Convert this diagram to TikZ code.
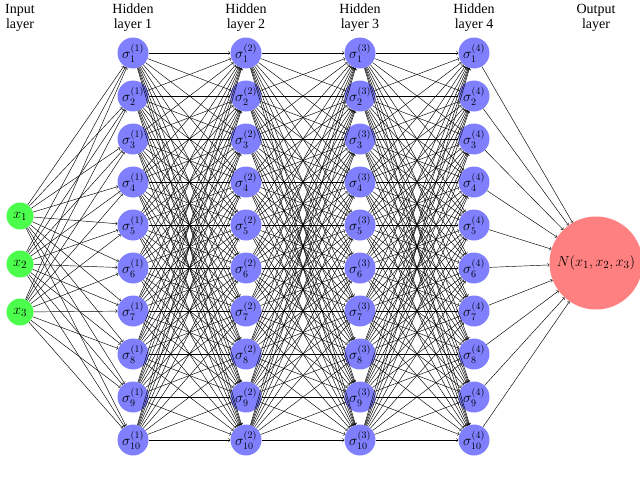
\documentclass[tikz,border=0pt]{standalone}
\usepackage{fontspec}
\setmainfont{Liberation Serif}
\begin{document}
\begin{tikzpicture}[x=1pt,y=-1pt,
  hid/.style={circle,fill=blue!50!white,minimum size=31pt,inner sep=0pt,font=\fontsize{14}{14}\selectfont},
  inp/.style={circle,fill=green!70!white,minimum size=27pt,inner sep=0pt,font=\fontsize{15}{15}\selectfont},
  outn/.style={circle,fill=red!50!white,minimum size=93pt,inner sep=0pt,font=\fontsize{15}{15}\selectfont},
  edge/.style={->,>=to,line width=0.45pt},
  ttl/.style={align=center,font=\fontsize{14}{15}\selectfont}]
\useasboundingbox (0,0) rectangle (640,488);
\node[ttl] (t0) at (20,18) {Input\\layer};
\node[ttl] (t1) at (133,18) {Hidden\\layer 1};
\node[ttl] (t2) at (246,18) {Hidden\\layer 2};
\node[ttl] (t3) at (360,18) {Hidden\\layer 3};
\node[ttl] (t4) at (474,18) {Hidden\\layer 4};
\node[ttl] (t5) at (596,18) {Output\\layer};
\foreach \i/\y in {1/216,2/264,3/312} \node[inp] (I\i) at (20,\y) {$x_{\i}$};
\foreach \l/\x in {1/133,2/246,3/360,4/474}
  \foreach \j in {1,...,10}
    \node[hid] (H\l-\j) at (\x,{53+43*(\j-1)}) {$\sigma_{\j}^{(\l)}$};
\node[outn] (O) at (596,263) {$N(x_1,x_2,x_3)$};
\foreach \i in {1,2,3} \foreach \j in {1,...,10} \draw[edge] (I\i) -- (H1-\j);
\foreach \l/\m in {1/2,2/3,3/4} \foreach \i in {1,...,10} \foreach \j in {1,...,10}
  \draw[edge] (H\l-\i) -- (H\m-\j);
\foreach \j in {1,...,10} \draw[edge] (H4-\j) -- (O);
\end{tikzpicture}
\end{document}
